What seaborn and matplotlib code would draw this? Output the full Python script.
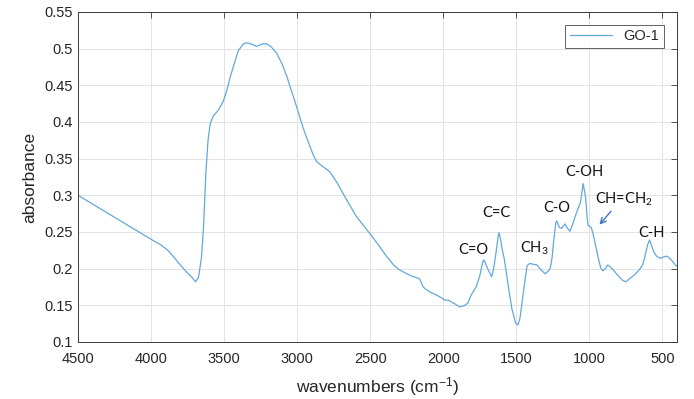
import numpy as np
import pandas as pd
import matplotlib
matplotlib.use("Agg")
import matplotlib.pyplot as plt
import seaborn as sns

# Spectrum (wavenumber in cm^-1, absorbance)
wavenumbers = [
    4500, 4250, 4000, 3930, 3880, 3850, 3800, 3760, 3720, 3695, 3675, 3655, 3640,
    3625, 3610, 3595, 3574, 3540, 3506, 3480, 3460, 3430, 3403, 3370, 3346,
    3310, 3278, 3245, 3214, 3180, 3141, 3105, 3072, 3040, 3004, 2975, 2947,
    2913, 2890, 2867, 2830, 2776, 2720, 2662, 2594, 2503, 2450, 2389, 2340,
    2297, 2250, 2206, 2170, 2160, 2140, 2127, 2090, 2047, 2010, 1990, 1966,
    1921, 1890, 1860, 1831, 1809, 1775, 1750, 1730, 1722, 1710, 1696, 1669,
    1655, 1640, 1625, 1618, 1608, 1595, 1583, 1565, 1550, 1530, 1505, 1489,
    1475, 1460, 1440, 1426, 1408, 1385, 1358, 1330, 1302, 1280, 1268, 1255,
    1246, 1230, 1223, 1205, 1190, 1167, 1150, 1133, 1115, 1099, 1077, 1061,
    1050, 1043, 1035, 1025, 1015, 1009, 995, 987, 975, 964, 950, 935,
    920, 908, 890, 874, 855, 840, 810, 773, 750, 720, 683, 660,
    638, 625, 615, 600, 588, 575, 559, 540, 514, 490, 469, 450,
    435, 412, 400,
]
absorbance = [
    0.300, 0.270, 0.240, 0.232, 0.224, 0.217, 0.205, 0.196, 0.188, 0.182, 0.188, 0.215, 0.260,
    0.330, 0.375, 0.398, 0.408, 0.416, 0.428, 0.444, 0.460, 0.480, 0.497, 0.506, 0.508,
    0.506, 0.503, 0.506, 0.507, 0.503, 0.494, 0.480, 0.463, 0.443, 0.421, 0.402, 0.385,
    0.367, 0.355, 0.346, 0.340, 0.332, 0.315, 0.294, 0.271, 0.248, 0.234, 0.217, 0.205,
    0.198, 0.193, 0.189, 0.187, 0.185, 0.176, 0.173, 0.168, 0.164, 0.160, 0.157, 0.157,
    0.152, 0.148, 0.149, 0.153, 0.164, 0.175, 0.190, 0.209, 0.212, 0.207, 0.200, 0.189,
    0.200, 0.220, 0.243, 0.249, 0.240, 0.225, 0.214, 0.190, 0.170, 0.145, 0.126, 0.123,
    0.132, 0.155, 0.185, 0.204, 0.207, 0.206, 0.205, 0.198, 0.193, 0.197, 0.200, 0.215,
    0.234, 0.262, 0.265, 0.256, 0.255, 0.261, 0.255, 0.251, 0.260, 0.270, 0.282, 0.290,
    0.305, 0.316, 0.308, 0.296, 0.270, 0.259, 0.257, 0.256, 0.248, 0.238, 0.225, 0.211,
    0.200, 0.197, 0.200, 0.205, 0.202, 0.199, 0.192, 0.184, 0.182, 0.187, 0.193, 0.198,
    0.204, 0.212, 0.221, 0.233, 0.239, 0.232, 0.223, 0.217, 0.214, 0.216, 0.217, 0.214,
    0.211, 0.205, 0.203,
]

# Peak labels (text, wavenumber, absorbance)
peak_labels = ["C=O", "C=C", "CH$_3$", "C-O", "C-OH", "CH=CH$_2$", "C-H"]
peak_wn = [1791, 1634, 1374, 1224, 1032, 765, 574]
peak_abs = [0.226, 0.276, 0.228, 0.283, 0.332, 0.294, 0.249]

x_ticks = [4500, 4000, 3500, 3000, 2500, 2000, 1500, 1000, 500]
y_ticks = [0.1, 0.15, 0.2, 0.25, 0.3, 0.35, 0.4, 0.45, 0.5, 0.55]
y_tick_labels = ["0.1", "0.15", "0.2", "0.25", "0.3", "0.35", "0.4", "0.45", "0.5", "0.55"]

sns.set_style("white")
plt.rcParams["font.family"] = ["Liberation Sans", "DejaVu Sans"]
plt.rcParams["mathtext.fontset"] = "custom"
plt.rcParams["mathtext.rm"] = "Lato"
plt.rcParams["mathtext.default"] = "regular"

df = pd.DataFrame({"wavenumber": wavenumbers, "absorbance": absorbance})

fig = plt.figure(figsize=(6.94, 3.99), dpi=100)
ax = fig.add_axes([0.1124, 0.143, 0.8631, 0.827])

sns.lineplot(data=df, x="wavenumber", y="absorbance", ax=ax, sort=False,
             color="#62a8dc", linewidth=0.9, label="GO-1")

ax.set_xlim(4500, 400)
ax.set_ylim(0.1, 0.55)
ax.set_xticks(x_ticks)
ax.set_yticks(y_ticks)
ax.set_yticklabels(y_tick_labels)
ax.grid(True, color="#e3e3e3", linewidth=0.7)
for s in ax.spines.values():
    s.set_color("#3a3a3a")
    s.set_linewidth(0.7)
ax.tick_params(direction="in", length=4, width=0.6, colors="#3a3a3a",
               labelcolor="#262626", labelsize=10.5, top=True, right=True)
ax.tick_params(axis="x", pad=7)
ax.set_xlabel("wavenumbers (cm$^{-1}$)", fontsize=12.5, color="#262626", labelpad=7)
ax.set_ylabel("absorbance", fontsize=12.5, color="#262626", labelpad=5)

for txt, wx, wy in zip(peak_labels, peak_wn, peak_abs):
    ax.text(wx, wy, txt, ha="center", va="center", fontsize=10.5,
            family=["Lato", "DejaVu Sans"], color="#111111")

ax.annotate("", xy=(943, 0.257), xytext=(840, 0.281),
            arrowprops=dict(arrowstyle="->", color="#4472c4", lw=1.0))

leg = ax.legend(loc="upper right", fontsize=10.5, frameon=True, fancybox=False,
                borderaxespad=0.9, handlelength=2.9, borderpad=0.3)
leg.get_frame().set_edgecolor("#3a3a3a")
leg.get_frame().set_linewidth(0.7)

fig.savefig("out.png", dpi=100)
